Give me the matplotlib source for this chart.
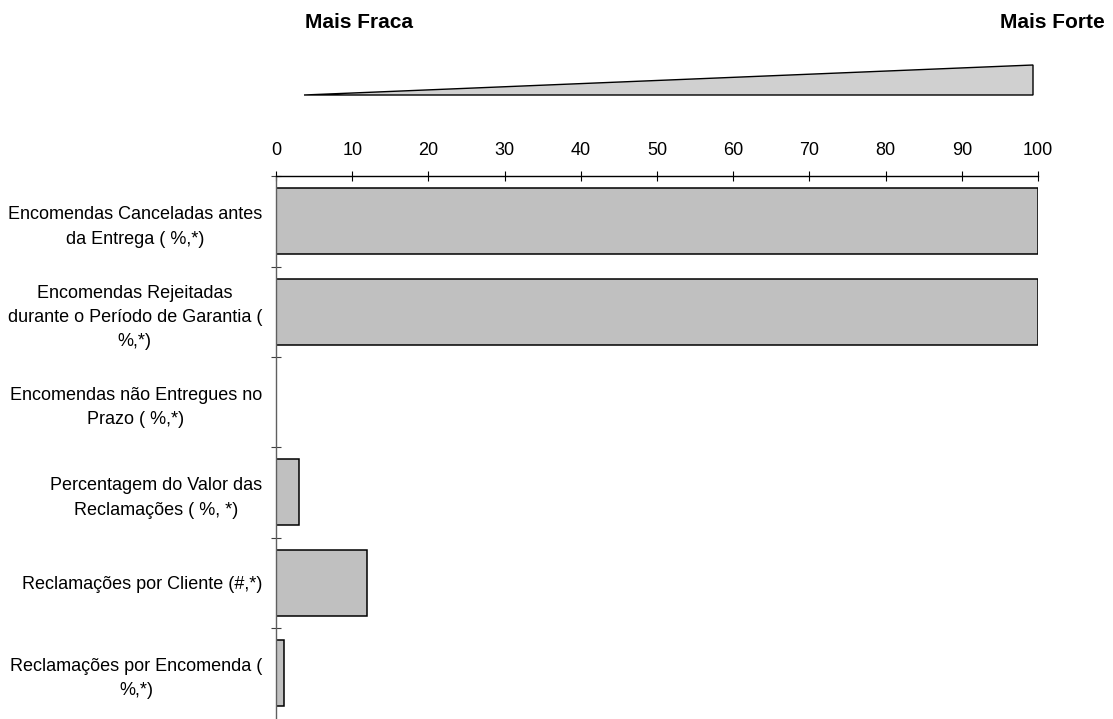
import matplotlib
matplotlib.use("Agg")
import matplotlib.pyplot as plt
from matplotlib.patches import Polygon
import numpy as np

plt.rcParams["font.family"] = ["Liberation Sans", "DejaVu Sans"]

categories = [
    "Encomendas Canceladas antes\nda Entrega ( %,*)",
    "Encomendas Rejeitadas\ndurante o Período de Garantia (\n%,*)",
    "Encomendas não Entregues no\nPrazo ( %,*)",
    "Percentagem do Valor das\nReclamações ( %, *)",
    "Reclamações por Cliente (#,*)",
    "Reclamações por Encomenda (\n%,*)",
]
values = [100, 100, 0, 3, 12, 1.1]
x_ticks = [0, 10, 20, 30, 40, 50, 60, 70, 80, 90, 100]

fig = plt.figure(figsize=(11.13, 7.19), dpi=100)
ax = fig.add_axes([276 / 1113, 0.001, (1038 - 276) / 1113, (718 - 176) / 719])

y = np.arange(len(categories))
ax.barh(y, values, height=0.73, color="#c0c0c0", edgecolor="black", linewidth=1.1)

ax.set_xlim(0, 100)
ax.set_ylim(len(categories) - 0.5, -0.5)

# axis on top
ax.xaxis.tick_top()
ax.set_xticks(x_ticks)
ax.tick_params(axis="x", direction="inout", length=7.2, width=0.8, pad=9,
               labelsize=13, colors="black")

ax.set_yticks(y)
ax.set_yticklabels(categories, fontsize=13, ha="right", multialignment="center",
                   linespacing=1.55)
ax.tick_params(axis="y", which="major", length=0, pad=10)
ax.set_yticks(np.arange(len(categories)) - 0.5, minor=True)
ax.tick_params(axis="y", which="minor", direction="inout", length=7.2, width=0.8,
               color="#404040")

for s in ["right", "bottom"]:
    ax.spines[s].set_visible(False)
ax.spines["top"].set_linewidth(1.0)
ax.spines["left"].set_color("#606060")
ax.spines["left"].set_linewidth(1.0)

# strength wedge on top
tri = Polygon([(304 / 1113, 1 - 95 / 719), (1033 / 1113, 1 - 65 / 719),
               (1033 / 1113, 1 - 95 / 719)], closed=True,
              facecolor="#d0d0d0", edgecolor="black", linewidth=1.0,
              transform=fig.transFigure)
fig.patches.append(tri)

fig.text(305 / 1113, 1 - 22 / 719, "Mais Fraca", fontsize=15, fontweight="bold",
         ha="left", va="center")
fig.text(1105 / 1113, 1 - 22 / 719, "Mais Forte", fontsize=15, fontweight="bold",
         ha="right", va="center")

fig.savefig("out.png", dpi=100)
